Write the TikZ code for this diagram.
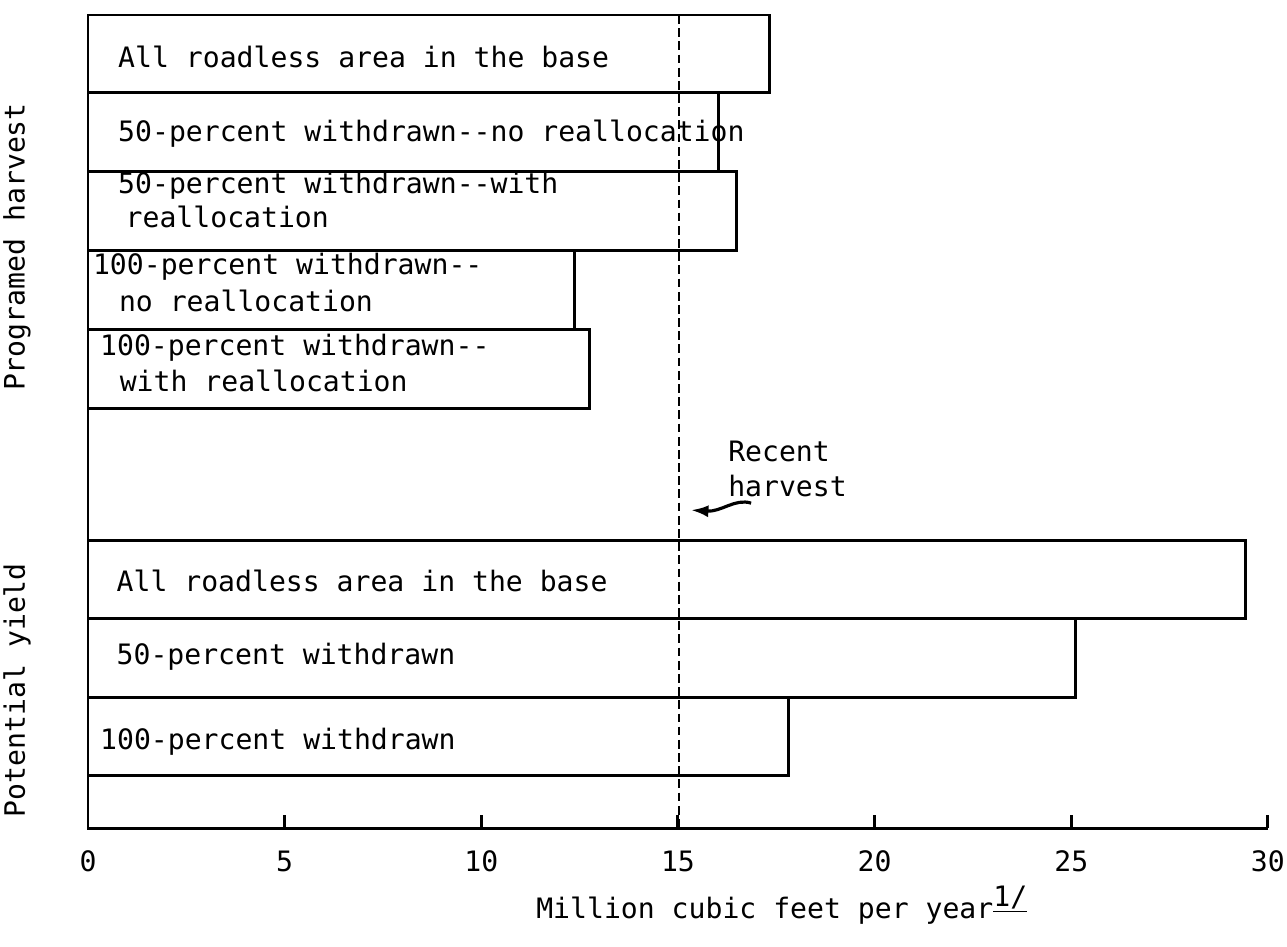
\documentclass[tikz,border=0pt]{standalone}
\usepackage{fontspec}
\setmonofont{DejaVu Sans Mono}
\usetikzlibrary{arrows.meta}
\begin{document}
\begin{tikzpicture}[
    x=0.7866cm, y=-0.02cm,
    >={Latex[length=3.5mm,width=2.4mm]},
    font=\ttfamily\fontsize{16}{19}\selectfont,
    bar/.style={
        draw,
        line width=1.7pt
    },
    axis/.style={
        line width=1.7pt
    },
    label/.style={
        anchor=west,
        inner sep=0pt
    },
    recent/.style={
        dash pattern=on 5pt off 2.5pt,
        line width=1.5pt
    }
]
\useasboundingbox (-2.2375,0) rectangle (30.486,946);

% Programed harvest bars
\draw[bar] (0,15) rectangle (17.34,92);
\draw[bar] (0,92) rectangle (16.02,171);
\draw[bar] (0,171) rectangle (16.48,250);
\draw[bar] (0,250) rectangle (12.38,329);
\draw[bar] (0,329) rectangle (12.76,408);

% Potential yield bars
\draw[bar] (0,540) rectangle (29.42,618);
\draw[bar] (0,618) rectangle (25.10,697);
\draw[bar] (0,697) rectangle (17.82,775);

% Bar labels
\node[label] (ph1) at (0.76,57) {All roadless area in the base};
\node[label] (ph2) at (0.76,134) {50-percent withdrawn--no reallocation};
\node[label] (ph3a) at (0.76,186) {50-percent withdrawn--with};
\node[label] (ph3b) at (0.95,217) {reallocation};
\node[label] (ph4a) at (0.12,267) {100-percent withdrawn--};
\node[label] (ph4b) at (0.78,301) {no reallocation};
\node[label] (ph5a) at (0.30,348) {100-percent withdrawn--};
\node[label] (ph5b) at (0.80,381) {with reallocation};

\node[label] (py1) at (0.72,581) {All roadless area in the base};
\node[label] (py2) at (0.72,657) {50-percent withdrawn};
\node[label] (py3) at (0.30,742) {100-percent withdrawn};

% Recent harvest
\draw[recent] (15.03,15) -- (15.03,828);
\node[label] (rc1) at (16.27,451) {Recent};
\node[label] (rc2) at (16.27,486) {harvest};
\coordinate (rcs) at (16.86,503);
\coordinate (rce) at (15.33,510);
\draw[->, line width=1.8pt] (rcs) .. controls (16.45,498) and (16.1,512) .. (rce);

% Axes
\draw[axis] (0,15) -- (0,828) -- (30,828);
\foreach \v in {5,10,...,30}
    \draw[axis] (\v,828) -- (\v,815);
\foreach \v in {0,5,...,30}
    \node (t\v) at (\v,861) {\v};

\node[label] (xt) at (11.39,905) {Million cubic feet per year\raisebox{0.45em}{\underline{1/}}};
\node[rotate=90] (yt1) at (-1.805,247) {Programed harvest};
\node[rotate=90] (yt2) at (-1.805,690) {Potential yield};

\end{tikzpicture}
\end{document}
